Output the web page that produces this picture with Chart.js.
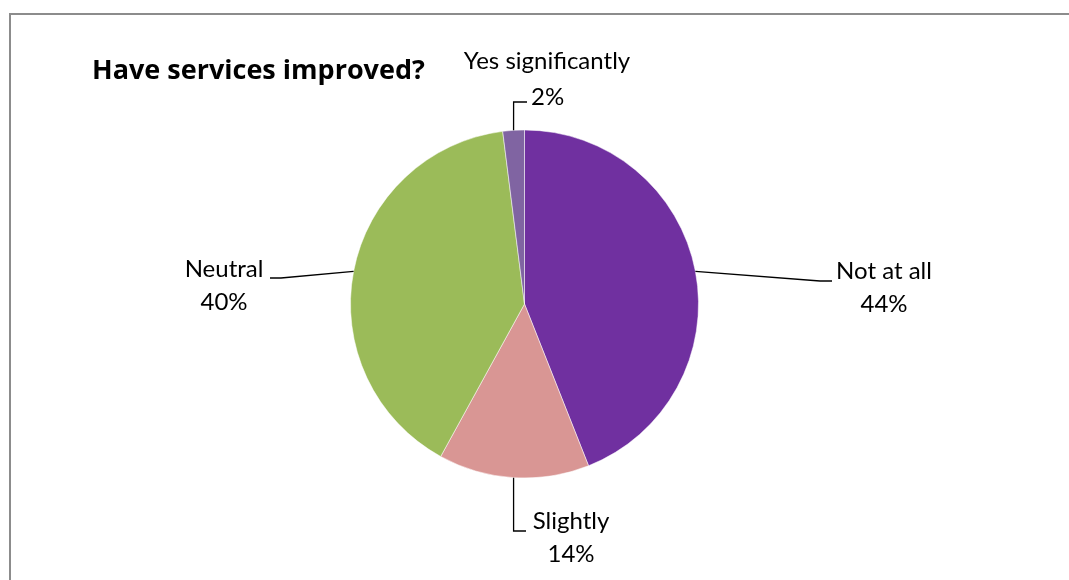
<!DOCTYPE html>
<html lang="en">
<head>
  <meta charset="UTF-8">
  <title>Have services improved?</title>
  <script src="https://cdn.jsdelivr.net/npm/chart.js"></script>
  <style>
    html, body { margin: 0; padding: 0; background: #fff; overflow: hidden; }
    .frame { position: absolute; left: 9px; top: 13px; width: 1100px; height: 620px; border: 2px solid #8c8c8c; }
    canvas { position: absolute; left: 0; top: 0; }
  </style>
</head>
<body>
<div class="frame"></div>
<canvas id="pieChart" width="1069" height="580"></canvas>

<script>
  const categories = ['Not at all', 'Slightly', 'Neutral', 'Yes significantly'];
  const percents = [44, 14, 40, 2];
  const sliceColors = ['#7030A0', '#D99694', '#9BBB59', '#8064A2'];

  // label layout: elbow point, end of leader, text centre (first line)
  const labelLayout = [
    { elbow: [820, 281], end: [832, 281], text: [884, 271] },
    { elbow: [513.6, 531], end: [526, 531], text: [571, 521] },
    { elbow: [281, 278], end: [270, 278], text: [224, 269] },
    { elbow: [513.6, 102], end: [527, 102], text: [547, 61] }
  ];

  const labelsPlugin = {
    id: 'leaderLabels',
    afterDatasetsDraw(chart) {
      const ctx = chart.ctx;
      const arcs = chart.getDatasetMeta(0).data;
      ctx.save();
      arcs.forEach((arc, i) => {
        const p = arc.getProps(['x', 'y', 'startAngle', 'endAngle', 'outerRadius'], true);
        const mid = (p.startAngle + p.endAngle) / 2;
        const ax = p.x + Math.cos(mid) * p.outerRadius;
        const ay = p.y + Math.sin(mid) * p.outerRadius;
        const L = labelLayout[i];
        ctx.strokeStyle = '#000';
        ctx.lineWidth = 1.3;
        ctx.beginPath();
        ctx.moveTo(ax, ay);
        ctx.lineTo(L.elbow[0], L.elbow[1]);
        ctx.lineTo(L.end[0], L.end[1]);
        ctx.stroke();

        ctx.fillStyle = '#000';
        ctx.font = '24px Lato';
        ctx.textAlign = 'center';
        ctx.textBaseline = 'middle';
        if (i === 3) {
          ctx.fillText(categories[i], L.text[0], L.text[1]);
          ctx.textAlign = 'left';
          ctx.fillText(percents[i] + '%', 531, 97);
        } else {
          ctx.fillText(categories[i], L.text[0], L.text[1]);
          ctx.fillText(percents[i] + '%', L.text[0], L.text[1] + 33);
        }
      });

      ctx.font = 'bold 27px "Open Sans"';
      ctx.textAlign = 'left';
      ctx.textBaseline = 'alphabetic';
      ctx.fillText('Have services improved?', 92, 79);
      ctx.restore();
    }
  };

  new Chart(document.getElementById('pieChart'), {
    type: 'pie',
    data: {
      labels: categories,
      datasets: [{
        data: percents,
        backgroundColor: sliceColors,
        borderColor: 'rgba(255,255,255,0.5)',
        borderWidth: 1
      }]
    },
    options: {
      responsive: false,
      animation: false,
      layout: { padding: { top: 129.5, bottom: 101.5, left: 350, right: 370 } },
      plugins: {
        legend: { display: false },
        tooltip: { enabled: false },
        title: { display: false }
      }
    },
    plugins: [labelsPlugin]
  });
</script>
</body>
</html>
